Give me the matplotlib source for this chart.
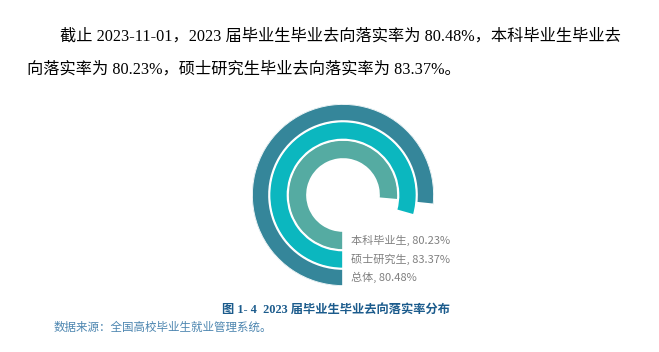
import numpy as np
import matplotlib
matplotlib.use('Agg')
from matplotlib import pyplot as plt

# Data
labels = ['本科毕业生', '硕士研究生', '总体']
rates = [80.23, 83.37, 80.48]
colors = ['#55aba2', '#0bb7bf', '#35869a']
scale_max = 105.0  # angle axis max (full circle)

# ring radii in pixels (axes r-units) from inner to outer
ring_inner = [36, 55.5, 74]
ring_outer = [55, 73.5, 91]

para1 = '截止 2023-11-01，2023 届毕业生毕业去向落实率为 80.48%，本科毕业生毕业去'
para2 = '向落实率为 80.23%，硕士研究生毕业去向落实率为 83.37%。'
caption = '图 1- 4  2023 届毕业生毕业去向落实率分布'
source = '数据来源：全国高校毕业生就业管理系统。'

serif = ['Liberation Serif', 'Noto Sans CJK SC']
sans = ['Noto Sans CJK SC', 'DejaVu Sans']

W, H = 659, 352
fig = plt.figure(figsize=(W / 100, H / 100), dpi=100)

# polar axes placed so that the ring centre sits at (343, 194) px
cx, cy, R = 343, 195, 91
ax = fig.add_axes([(cx - R) / W, (H - cy - R) / H, 2 * R / W, 2 * R / H],
                  projection='polar')
ax.set_theta_zero_location('S')
ax.set_theta_direction(-1)

theta = [v / scale_max * 2 * np.pi for v in rates]
r_mid = [(a + b) / 2 for a, b in zip(ring_inner, ring_outer)]
thick = [b - a for a, b in zip(ring_inner, ring_outer)]
ax.barh(r_mid, theta, height=thick, left=0, color=colors,
        edgecolor='white', linewidth=1.2)
ax.set_ylim(0, R)
ax.axis('off')

for lab, v, r in zip(labels, rates, r_mid):
    ax.annotate(f'{lab}, {v:.2f}%', xy=(0, r), xytext=(6, 0),
                textcoords='offset points', ha='left', va='center',
                fontsize=8, color='#808080', family=sans)

# paragraph text
fig.text(60 / W, 1 - 37 / H, para1, fontsize=11.7, family=serif,
         va='center', ha='left', color='black')
fig.text(27 / W, 1 - 70 / H, para2, fontsize=11.7, family=serif,
         va='center', ha='left', color='black')

# caption and source
fig.text(336 / W, 1 - 310 / H, caption, fontsize=8.8, family=serif,
         fontweight='bold', va='center', ha='center', color='#1b5b8c')
fig.text(54 / W, 1 - 327 / H, source, fontsize=8.3, family=sans,
         va='center', ha='left', color='#4d86b0')

fig.savefig('out.png', dpi=100)
